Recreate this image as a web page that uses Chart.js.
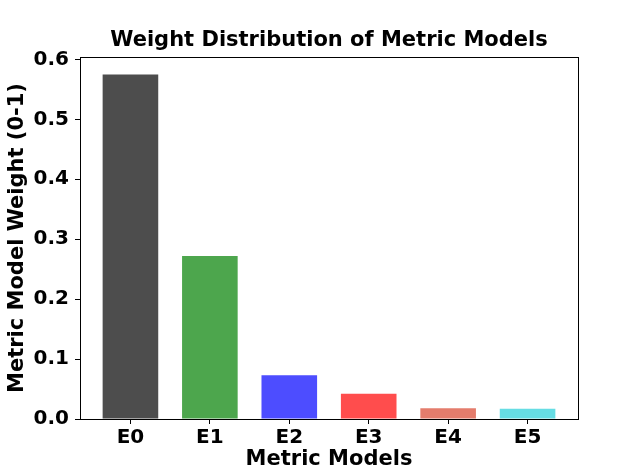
<!DOCTYPE html>
<html>
<head>
<meta charset="utf-8">
<script src="https://cdn.jsdelivr.net/npm/chart.js@4"></script>
<style>
    html, body { margin: 0; padding: 0; background: #fff; }
    #wrap { width: 643px; height: 472px; }
</style>
</head>
<body>
<div id="wrap"><canvas id="weightChart"></canvas></div>
<script>
const categories = ['E0', 'E1', 'E2', 'E3', 'E4', 'E5']
const weights = [0.575, 0.272, 0.073, 0.042, 0.018, 0.017]
const barColors = ['#4d4d4d', '#4da64d', '#4d4dff', '#ff4d4d', '#e47c6c', '#66dde4']
const yTicks = [0.0, 0.1, 0.2, 0.3, 0.4, 0.5, 0.6]
const chartTitle = 'Weight Distribution of Metric Models'

const FONT = 'DejaVu Sans'

const points = categories.map((c, i) => ({ x: i, y: weights[i] }))

// box round the plot area + title centred over the plot (like matplotlib)
const frame = {
    id: 'frame',
    afterDraw(chart) {
        const { ctx, chartArea: a } = chart
        ctx.save()
        ctx.strokeStyle = '#000'
        ctx.lineWidth = 1
        ctx.strokeRect(a.left + 0.5, a.top + 0.5, a.right - a.left, a.bottom - a.top)
        ctx.fillStyle = '#000'
        ctx.font = 'bold 21px "' + FONT + '"'
        ctx.textAlign = 'center'
        ctx.textBaseline = 'middle'
        ctx.fillText(chartTitle, (a.left + a.right) / 2, 41)
        ctx.restore()
    }
}

const config = {
    type: 'bar',
    data: {
        datasets: [{
            label: 'Weight',
            data: points,
            backgroundColor: barColors,
            borderWidth: 0,
            barPercentage: 0.7,
            categoryPercentage: 1.0
        }]
    },
    options: {
        responsive: true,
        maintainAspectRatio: false,
        animation: false,
        layout: { padding: { left: 0, right: 65, top: 57, bottom: 0 } },
        plugins: {
            legend: { display: false },
            tooltip: { enabled: false },
            title: { display: false }
        },
        scales: {
            x: {
                type: 'linear',
                min: -0.635,
                max: 5.635,
                offset: false,
                grid: { drawOnChartArea: false, offset: false, color: '#000', tickLength: 5 },
                border: { color: '#000', width: 1 },
                afterBuildTicks: (scale) => {
                    scale.ticks = categories.map((c, i) => ({ value: i }))
                },
                ticks: {
                    color: '#000',
                    padding: 2,
                    maxRotation: 0,
                    autoSkip: false,
                    font: { family: FONT, size: 20, weight: 'bold' },
                    callback: (v) => categories[v] !== undefined ? categories[v] : ''
                },
                title: {
                    display: true,
                    text: 'Metric Models',
                    color: '#000',
                    padding: { top: 0, bottom: 0 },
                    font: { family: FONT, size: 21, weight: 'bold' }
                },
                afterFit: (scale) => { scale.height = 53 }
            },
            y: {
                min: 0,
                max: 0.604,
                grid: { drawOnChartArea: false, color: '#000', tickLength: 5 },
                border: { color: '#000', width: 1 },
                afterBuildTicks: (scale) => {
                    scale.ticks = yTicks.map(v => ({ value: v }))
                },
                ticks: {
                    color: '#000',
                    padding: 6,
                    font: { family: FONT, size: 20, weight: 'bold' },
                    callback: (v) => v.toFixed(1)
                },
                title: {
                    display: true,
                    text: 'Metric Model Weight (0-1)',
                    color: '#000',
                    padding: { top: 5, bottom: 0 },
                    font: { family: FONT, size: 21, weight: 'bold' }
                },
                afterFit: (scale) => { scale.width = 80 }
            }
        }
    },
    plugins: [frame]
}

new Chart(document.getElementById('weightChart'), config)
</script>
</body>
</html>
